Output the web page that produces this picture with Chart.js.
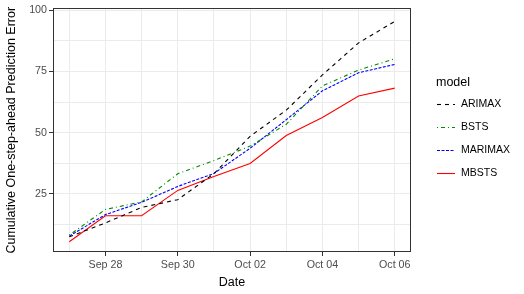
<!DOCTYPE html>
<head>
    <meta charset="utf-8">
    <style>
        body { margin: 0; background: #fff; }
    </style>
</head>

<body>
    <canvas id="errChart" width="524" height="294"></canvas>
</body>

<script src="https://cdn.jsdelivr.net/npm/chart.js"></script>

<script>

    // days, Sep 27 .. Oct 06
    var dayLabels = ['Sep 27', 'Sep 28', 'Sep 29', 'Sep 30', 'Oct 01', 'Oct 02', 'Oct 03', 'Oct 04', 'Oct 05', 'Oct 06']
    var shownDays = ['Sep 28', 'Sep 30', 'Oct 02', 'Oct 04', 'Oct 06']

    var arimax  = [7.4, 13.1, 19.4, 22.6, 33.2, 48.5, 59.2, 73.6, 86.7, 95.5]
    var bsts    = [8.1, 18.6, 21.7, 33.2, 38.6, 44.5, 53.4, 69.1, 75.6, 80.2]
    var marimax = [7.7, 16.5, 21.5, 28.0, 33.3, 43.6, 55.3, 67.1, 74.5, 77.9]
    var mbsts   = [5.4, 16.0, 16.0, 26.4, 32.1, 37.4, 48.8, 56.2, 65.0, 68.2]

    var yTicks = [12.5, 25, 37.5, 50, 62.5, 75, 87.5, 100]
    var yLabels = [25, 50, 75, 100]

    var seriesNames = ['ARIMAX', 'BSTS', 'MARIMAX', 'MBSTS']

    function pts(arr) {
        return arr.map(function (v, i) { return { x: i, y: v } })
    }

    function makeSet(name, arr, color, dash) {
        return {
            label: name,
            data: pts(arr),
            borderColor: color,
            backgroundColor: color,
            borderWidth: 1.1,
            borderDash: dash,
            pointRadius: 0,
            tension: 0,
            fill: false
        }
    }

    var sets = [
        makeSet(seriesNames[0], arimax, '#000000', [4, 4]),
        makeSet(seriesNames[1], bsts, '#008B00', [1, 3, 4, 3]),
        makeSet(seriesNames[2], marimax, '#0000FF', [3, 1.5]),
        makeSet(seriesNames[3], mbsts, '#FF0000', [])
    ]

    // panel border, axis titles and the ggplot-like legend
    var extras = {
        id: 'extras',
        afterDraw: function (chart) {
            var c = chart.ctx
            var a = chart.chartArea
            c.save()
            c.strokeStyle = '#333333'
            c.lineWidth = 1
            c.setLineDash([])
            c.strokeRect(Math.round(a.left) + 0.5, Math.round(a.top) + 0.5,
                Math.round(a.right - a.left) - 1, Math.round(a.bottom - a.top) - 1)

            c.fillStyle = '#000'
            c.font = '12.5px "Liberation Sans", Arial, sans-serif'
            c.textAlign = 'center'
            c.textBaseline = 'middle'
            c.fillText('Date', (a.left + a.right) / 2, 283)

            c.translate(12, (a.top + a.bottom) / 2)
            c.rotate(-Math.PI / 2)
            c.fillText('Cumulative One-step-ahead Prediction Error', 0, 0)
            c.setTransform(1, 0, 0, 1, 0, 0)

            c.textAlign = 'left'
            c.fillText('model', 436, 83)
            c.font = '10.5px "Liberation Sans", Arial, sans-serif'
            var rows = [104, 127, 150, 173]
            chart.data.datasets.forEach(function (ds, i) {
                c.strokeStyle = ds.borderColor
                c.lineWidth = 1.1
                c.setLineDash(ds.borderDash)
                c.beginPath()
                c.moveTo(437, rows[i] + 0.5)
                c.lineTo(455, rows[i] + 0.5)
                c.stroke()
                c.setLineDash([])
                c.fillStyle = '#000'
                c.fillText(ds.label, 461, rows[i])
            })
            c.restore()
        }
    }

    var ctx = document.getElementById('errChart').getContext('2d')

    var errChart = new Chart(ctx, {
        type: 'line',
        data: { datasets: sets },
        options: {
            responsive: false,
            animation: false,
            layout: { padding: { left: 0, right: 113, top: 7, bottom: 0 } },
            plugins: {
                legend: { display: false },
                tooltip: { enabled: false }
            },
            scales: {
                x: {
                    type: 'linear',
                    min: -0.45,
                    max: 9.45,
                    afterBuildTicks: function (scale) {
                        scale.ticks = dayLabels.map(function (d, i) { return { value: i } })
                    },
                    afterFit: function (scale) { scale.height = 42 },
                    ticks: {
                        autoSkip: false,
                        maxRotation: 0,
                        padding: 3,
                        color: '#4d4d4d',
                        font: { family: '"Liberation Sans", Arial, sans-serif', size: 10.7 },
                        callback: function (v) {
                            var d = dayLabels[v]
                            return shownDays.indexOf(d) >= 0 ? d : ''
                        }
                    },
                    grid: {
                        color: '#ebebeb',
                        lineWidth: 1,
                        tickLength: 4,
                        tickColor: function (c) {
                            return c.tick && shownDays.indexOf(dayLabels[c.tick.value]) >= 0 ? '#333333' : 'rgba(0,0,0,0)'
                        }
                    },
                    border: { display: false }
                },
                y: {
                    type: 'linear',
                    min: 1.2,
                    max: 100.8,
                    afterBuildTicks: function (scale) {
                        scale.ticks = yTicks.map(function (v) { return { value: v } })
                    },
                    afterFit: function (scale) { scale.width = 53 },
                    ticks: {
                        padding: 2,
                        color: '#4d4d4d',
                        font: { family: '"Liberation Sans", Arial, sans-serif', size: 10.7 },
                        callback: function (v) {
                            return yLabels.indexOf(v) >= 0 ? String(v) : ''
                        }
                    },
                    grid: {
                        color: '#ebebeb',
                        lineWidth: 1,
                        tickLength: 4,
                        tickColor: function (c) {
                            return c.tick && yLabels.indexOf(c.tick.value) >= 0 ? '#333333' : 'rgba(0,0,0,0)'
                        }
                    },
                    border: { display: false }
                }
            }
        },
        plugins: [extras]
    });

</script>
</html>
